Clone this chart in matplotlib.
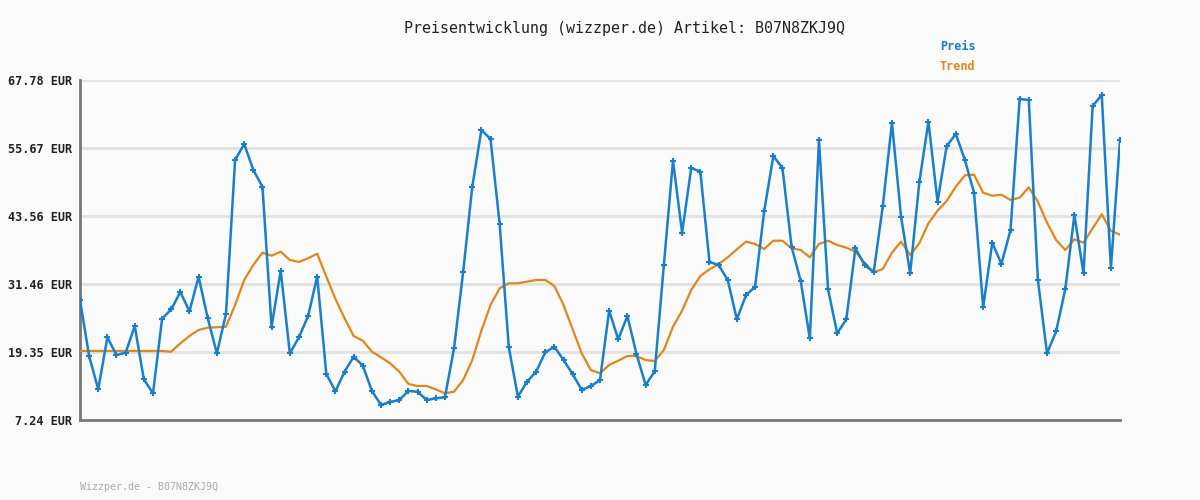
import matplotlib
matplotlib.use('Agg')
import matplotlib.pyplot as plt

matplotlib.rcParams['font.family'] = 'DejaVu Sans Mono'

# price readings (EUR), one per sample
preis = [28.61, 18.63, 12.70, 21.96, 18.81, 19.22, 23.98, 14.48, 11.99, 25.28,
         26.94, 30.03, 26.59, 32.76, 25.40, 19.11, 26.11, 53.53, 56.38, 51.75,
         48.78, 23.85, 33.83, 19.11, 21.96, 25.76, 32.76, 15.43, 12.35, 15.84,
         18.51, 16.91, 12.40, 9.91, 10.44, 10.80, 12.40, 12.28, 10.80, 11.10,
         11.28, 20.00, 33.59, 48.78, 58.88, 57.27, 42.14, 20.24, 11.40, 14.06,
         15.84, 19.29, 20.29, 17.92, 15.43, 12.58, 13.29, 14.36, 26.70, 21.61,
         25.76, 18.99, 13.47, 15.91, 34.84, 53.41, 40.59, 52.11, 51.45, 35.37,
         34.84, 32.17, 25.17, 29.44, 30.98, 44.45, 54.25, 52.11, 38.10, 31.99,
         21.78, 57.10, 30.51, 22.68, 25.17, 37.81, 34.84, 33.54, 45.34, 60.18,
         43.44, 33.36, 49.56, 60.36, 46.11, 56.03, 58.16, 53.53, 47.71, 27.31,
         38.81, 35.02, 41.07, 64.40, 64.22, 32.17, 19.11, 23.03, 30.51, 43.74,
         33.36, 63.15, 65.11, 34.25, 57.10]

trend = [19.53, 19.53, 19.53, 19.53, 19.53, 19.53, 19.53, 19.53, 19.53, 19.53,
         19.40, 20.89, 22.20, 23.27, 23.68, 23.75, 23.85, 27.72, 32.17, 34.84,
         37.03, 36.50, 37.21, 35.73, 35.37, 36.03, 36.85, 32.76, 28.80, 25.35,
         22.20, 21.36, 19.41, 18.40, 17.33, 15.84, 13.65, 13.29, 13.29, 12.70,
         11.99, 12.28, 14.36, 17.92, 23.14, 27.72, 30.69, 31.58, 31.58, 31.87,
         32.17, 32.17, 31.10, 27.72, 23.39, 19.11, 16.14, 15.56, 17.03, 17.80,
         18.63, 18.63, 17.92, 17.74, 19.70, 23.85, 26.70, 30.39, 32.88, 34.07,
         34.96, 36.21, 37.63, 38.99, 38.58, 37.69, 39.16, 39.16, 37.81, 37.51,
         36.21, 38.58, 39.16, 38.40, 37.93, 37.21, 35.25, 33.54, 34.13, 37.03,
         38.99, 36.62, 38.70, 42.26, 44.51, 46.23, 48.78, 50.81, 50.92, 47.71,
         47.18, 47.36, 46.41, 46.82, 48.67, 46.11, 42.37, 39.29, 37.51, 39.41,
         38.81, 41.37, 43.87, 40.95, 40.23]

yticks = [7.24, 19.35, 31.46, 43.56, 55.67, 67.78]
ytick_labels = ['%.2f EUR' % v for v in yticks]

bg = '#fafafa'
blue = '#1a7fca'
orange = '#e0861a'

fig = plt.figure(figsize=(12, 5), dpi=100, facecolor=bg)
ax = fig.add_axes([80/1200, 80/500, 1040/1200, 340/500], facecolor=bg)

x = list(range(len(preis)))
ax.plot(x, trend, color=orange, lw=1.6, zorder=3)
ax.plot(x, preis, color=blue, lw=1.8, marker='+', ms=4, mew=1.5, zorder=4)

ax.set_xlim(0, len(preis) - 1)
ax.set_ylim(yticks[0], yticks[-1])
ax.set_yticks(yticks)
ax.set_yticklabels(ytick_labels, fontsize=8.6, fontweight='bold', color='#222222')
ax.set_xticks([])
ax.tick_params(axis='y', length=0, pad=6)
for t in yticks[1:]:
    ax.axhline(t, color='#e2e2e2', lw=2, zorder=1)

for s in ['top', 'right']:
    ax.spines[s].set_visible(False)
for s in ['left', 'bottom']:
    ax.spines[s].set_color('#777777')
    ax.spines[s].set_linewidth(2)

fig.text(624/1200, 1 - 28/500, 'Preisentwicklung (wizzper.de) Artikel: B07N8ZKJ9Q',
         ha='center', va='center', fontsize=10.8, color='#222222')
fig.text(940/1200, 1 - 47/500, 'Preis', ha='left', va='center',
         fontsize=8.5, fontweight='bold', color=blue)
fig.text(940/1200, 1 - 67/500, 'Trend', ha='left', va='center',
         fontsize=8.5, fontweight='bold', color=orange)
fig.text(80/1200, 1 - 487/500, 'Wizzper.de - B07N8ZKJ9Q', ha='left', va='center',
         fontsize=7.2, color='#aaaaaa')

fig.savefig('out.png', dpi=100, facecolor=bg)
